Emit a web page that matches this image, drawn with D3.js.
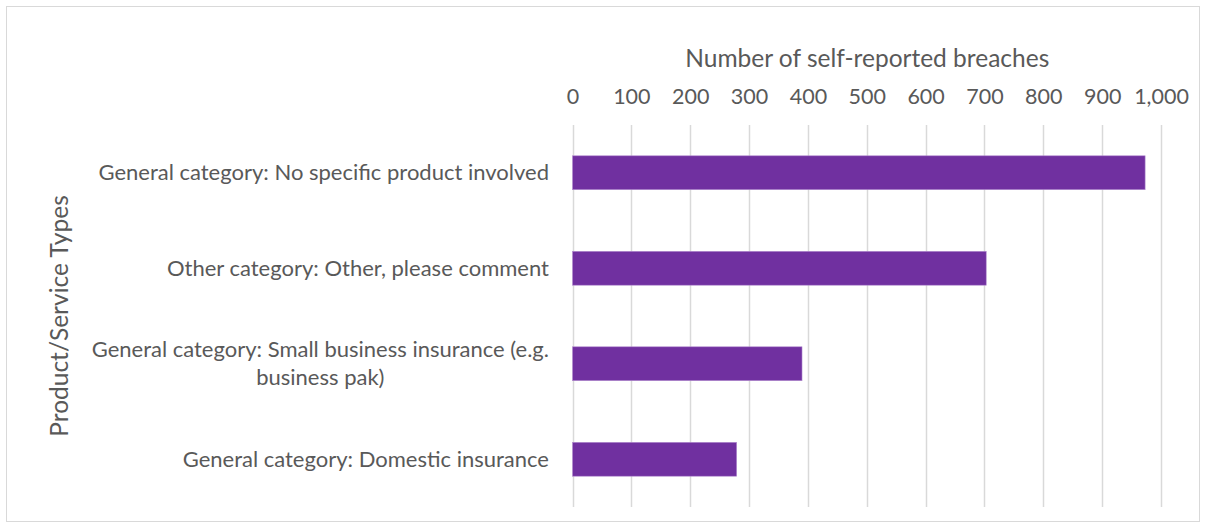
<!DOCTYPE html>
<html>
<head>
<meta charset="utf-8">
<script src="https://cdn.jsdelivr.net/npm/d3@7"></script>
<style>
  html, body { margin: 0; padding: 0; background: #fff; }
  svg text { font-family: Lato, "Open Sans", sans-serif; fill: #595959; }
</style>
</head>
<body>
<svg id="chart" width="1206" height="528"></svg>
<script>
// Breach counts by product/service type, top to bottom
const categories = [
  "General category: No specific product involved",
  "Other category: Other, please comment",
  "General category: Small business insurance (e.g. business pak)",
  "General category: Domestic insurance"
];
const breaches = [973, 703, 390, 279];
const xTicks = [0, 100, 200, 300, 400, 500, 600, 700, 800, 900, 1000];
const xTitle = "Number of self-reported breaches";
const yTitle = "Product/Service Types";

const svg = d3.select("#chart");
const W = 1206, H = 528;
const plot = { left: 572.5, right: 1161, top: 125, bottom: 507 };
const labelSize = 22, tickSize = 21.5, titleSize = 24.5;

// Chart frame
svg.append("rect")
  .attr("x", 6.5).attr("y", 6.5)
  .attr("width", W - 13).attr("height", H - 13)
  .attr("fill", "#fff").attr("stroke", "#d9d9d9").attr("stroke-width", 1);

const x = d3.scaleLinear().domain([0, 1000]).range([plot.left, plot.right]);
const y = d3.scaleBand().domain(categories).range([plot.top, plot.bottom])
  .paddingInner(0.645).paddingOuter(0.3225);

// Vertical gridlines
svg.append("g").selectAll("line").data(xTicks).join("line")
  .attr("x1", d => Math.round(x(d)) + 0.5).attr("x2", d => Math.round(x(d)) + 0.5)
  .attr("y1", plot.top).attr("y2", plot.bottom)
  .attr("stroke", "#d9d9d9").attr("stroke-width", 1.5);

// Top axis tick labels
const xAxis = d3.axisTop(x).tickValues(xTicks).tickSize(0).tickPadding(0)
  .tickFormat(d3.format(","));
const gx = svg.append("g").attr("transform", `translate(0, 104)`).call(xAxis);
gx.select(".domain").remove();
gx.selectAll("text").attr("font-size", tickSize).attr("fill", "#595959")
  .style("font-family", "Lato, 'Open Sans', sans-serif");

// Bars
svg.append("g").selectAll("rect").data(categories).join("rect")
  .attr("x", x(0))
  .attr("y", d => y(d))
  .attr("width", (d, i) => x(breaches[i]) - x(0))
  .attr("height", y.bandwidth())
  .attr("fill", "#7030a0")
  .attr("stroke", "#b48fd0").attr("stroke-width", 0.6);

// Category labels: wrapped to a maximum width, the block right-aligned
// against the plot and its lines centred on each other
const labelMax = 500, labelRight = 549, lh = 28;
const gl = svg.append("g");
const probe = svg.append("text").attr("font-size", labelSize);
const measure = s => { probe.text(s); return probe.node().getComputedTextLength(); };
categories.forEach(c => {
  const words = c.split(" ");
  const lines = [];
  let line = [];
  words.forEach(w => {
    line.push(w);
    if (measure(line.join(" ")) > labelMax && line.length > 1) {
      line.pop();
      lines.push(line.join(" "));
      line = [w];
    }
  });
  lines.push(line.join(" "));
  const blockW = d3.max(lines, measure);
  const cx = labelRight - blockW / 2;
  const cy = y(c) + y.bandwidth() / 2;
  const t = gl.append("text").attr("font-size", labelSize).attr("text-anchor", "middle");
  lines.forEach((ln, k) => {
    t.append("tspan").attr("x", cx)
      .attr("y", cy + (k - (lines.length - 1) / 2) * lh)
      .attr("dy", "0.35em")
      .text(ln);
  });
});
probe.remove();

// Axis titles
svg.append("text").attr("x", (plot.left + plot.right) / 2 + 0.5).attr("y", 58)
  .attr("dy", "0.35em").attr("text-anchor", "middle").attr("font-size", titleSize)
  .text(xTitle);
svg.append("text")
  .attr("transform", `translate(59, ${(plot.top + plot.bottom) / 2}) rotate(-90)`)
  .attr("dy", "0.35em").attr("text-anchor", "middle").attr("font-size", titleSize)
  .text(yTitle);
</script>
</body>
</html>
